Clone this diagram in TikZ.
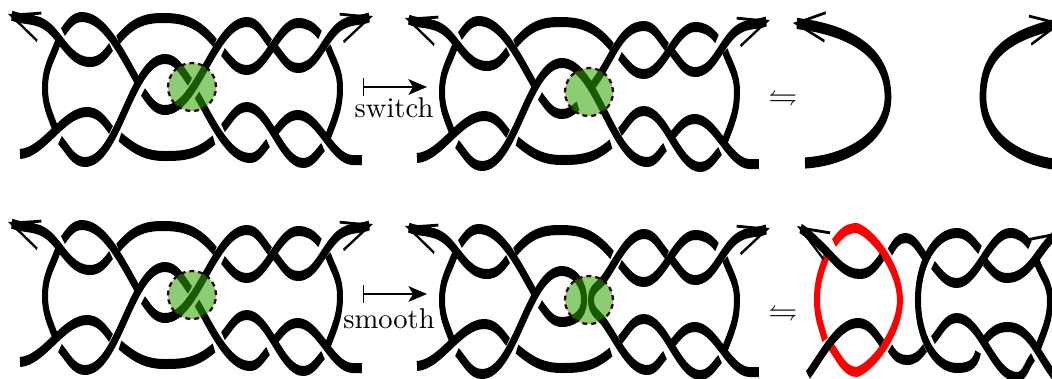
\documentclass[tikz,border=0pt]{standalone}
\usepackage{amsmath,amssymb}
\usepackage{xcolor}
\usetikzlibrary{arrows.meta}
\definecolor{patchgreen}{RGB}{45,164,0}
\definecolor{patchedge}{RGB}{50,0,20}
\tikzset{
  strand/.style={line width=3.5pt},
  loose/.style={line width=3.9pt},
  warp/.style 2 args={transform canvas={shift={(.6*#1,#2)},xscale=.6},x=.58333pt},
  patch/.style={circle, draw=patchedge, dash pattern=on 1.7pt off 1.4pt, line width=.8pt, fill=patchgreen, fill opacity=.55, draw opacity=1, minimum size=16.8pt, inner sep=0pt},
  maparrow/.style={{Bar[width=6.5pt]}-{Stealth[length=6.5pt,width=5.5pt,inset=1.6pt]}, line width=.4pt},
  endtip/.style={-{Straight Barb[length=17pt,width=10pt,line width=1pt]}},
  wave/.style={looseness=.85}
}
% the part of the tangle that every copy shares
\newcommand{\braidcommon}{
  \draw[strand,endtip] (111,47) to[out=-140,in=0] (90,62) to[out=180,in=-36] (55,34) to[out=144,in=-14] (8,14);
  \draw[strand] (118,40) to[out=36,in=180] (163,18) to[out=0,in=144] (215,43);
  \draw[strand] (63,32) to[out=40,in=180] (82,17) to[out=0,in=134,wave] (138,82);
  \draw[strand] (20,154) to[out=2,in=180,wave] (87,112) to[out=0,in=140] (111,130);
  \draw[strand] (120,137) to[out=-27,in=180] (165,156) to[out=0,in=-153] (214,140);
  \draw[strand] (58,42) to[out=-121,in=90] (45,88) to[out=-90,in=121] (55,128);
  \draw[strand] (328,47) to[out=-59,in=90] (340,88) to[out=-90,in=59] (328,137);
  \draw[strand] (223,52) to[out=-36,in=180] (247,70) to[out=0,in=180,wave] (298,23) to[out=0,in=144] (320,35);
  \draw[strand,endtip] (275,48) to[out=-36,in=180] (298,68) to[out=0,in=-144] (333,33) to[out=36,in=193] (373,16);
  \draw[strand] (223,128) to[out=36,in=180] (247,107) to[out=0,in=180,wave] (303,163) to[out=0,in=-144] (323,147);
  \draw[strand] (275,132) to[out=36,in=180] (298,115) to[out=0,in=178,wave] (352,160) -- (362,160);
}
% the crossing under the patch
\newcommand{\crossplain}{
  \draw[strand] (60,140) to[out=-36,in=180] (85,162) to[out=0,in=180,wave] (165,59) to[out=0,in=140] (190,82);
  \draw[strand] (197,95) to[out=-46,in=180,wave] (250,158) to[out=0,in=-144] (268,143);
  \draw[strand] (143,92) to[out=-40,in=180] (165,110) to[out=0,in=180,wave] (247,22) to[out=0,in=144] (270,43);
}
\newcommand{\crossswitch}{
  \draw[strand] (60,140) to[out=-36,in=180] (85,162) to[out=0,in=180,wave] (165,59) to[out=0,in=180,wave] (250,158) to[out=0,in=-144] (268,143);
  \draw[strand] (143,92) to[out=-40,in=180] (165,110) to[out=0,in=-153] (181,102);
  \draw[strand] (195,82) to[out=36,in=180] (247,22) to[out=0,in=144] (270,43);
}
\newcommand{\crosssmooth}{
  \draw[strand] (60,140) to[out=-36,in=180] (85,162) to[out=0,in=180,wave] (165,59) to[out=0,in=90] (187,88) to[out=-90,in=0] (165,110) to[out=180,in=-40] (143,92);
  \draw[strand] (270,43) to[out=144,in=0] (247,22) to[out=180,in=40,wave] (207,67) to[out=-140,in=90] (194,88) to[out=-90,in=140] (207,110) to[out=-40,in=180,wave] (250,158) to[out=0,in=-144] (268,143);
}

\begin{document}
\begin{tikzpicture}[x=.35pt, y=-.35pt]
\clip (0,0) rectangle (1052,378);

% Top row
\begin{scope}[warp={0}{0}]
  \braidcommon
  \crossplain
\end{scope}
\node[patch] (patchA) at (192,87) {};

\coordinate (mapAs) at (363,87);
\coordinate (mapAe) at (427,87);
\draw[maparrow] (mapAs) -- (mapAe);
\node[anchor=base] (labelA) at (394,117) {switch};

\begin{scope}[warp={397}{4}]
  \braidcommon
  \crossswitch
\end{scope}
\node[patch] (patchB) at (589,92) {};

\node (eqA) at (783,98) {$\leftrightharpoons$};

\begin{scope}[warp={0}{0}]
  \draw[loose,endtip] (805,163) .. controls (850,160) and (888,135) .. (888,97) .. controls (888,52) and (850,30) .. (793,23);
  \draw[loose,endtip] (1060,165) .. controls (1015,160) and (983,135) .. (983,97) .. controls (983,60) and (1000,37) .. (1062,23);
\end{scope}

% Bottom row
\begin{scope}[warp={0}{208}]
  \braidcommon
  \crossplain
\end{scope}
\node[patch] (patchC) at (192,295) {};

\coordinate (mapBs) at (363,294);
\coordinate (mapBe) at (427,294);
\draw[maparrow] (mapBs) -- (mapBe);
\node[anchor=base] (labelB) at (389,328) {smooth};

\begin{scope}[warp={397}{212}]
  \braidcommon
  \crosssmooth
\end{scope}
\node[patch] (patchD) at (589,300) {};

\node (eqB) at (783,313) {$\leftrightharpoons$};

% Unknot summand in red, the rest of the tangle in black
\begin{scope}[warp={0}{0}]
  \draw[strand,red] (834,243) to[out=40,in=180] (857,228) to[out=-12,in=90,looseness=.75] (900,300) to[out=-90,in=12,looseness=.75] (857,372) to[out=180,in=-40] (830,345);
  \draw[strand,red] (828,252) to[out=-121,in=90] (817,300) to[out=-90,in=114] (825,340);
  \draw[strand,endtip] (882,257) to[out=-140,in=0] (860,274) to[out=180,in=-31] (825,250) to[out=149,in=-22] (797,226);
  \draw[strand] (808,375) to[out=40,in=180,wave] (858,323) to[out=0,in=140] (882,343);
  \draw[strand] (890,252) to[out=46,in=180] (905,238) to[out=0,in=140] (925,257);
  \draw[strand] (890,348) to[out=-46,in=180] (907,360) to[out=0,in=-140] (925,348);
  \draw[strand] (980,250) to[out=144,in=0] (957,233) to[out=180,in=90] (918,300) to[out=-90,in=180] (957,368) to[out=0,in=-106] (978,352);
  \draw[strand] (933,265) to[out=-36,in=180] (957,283) to[out=0,in=180,wave] (1010,233) to[out=0,in=144] (1030,245);
  \draw[strand,endtip] (985,262) to[out=-36,in=180] (1007,278) to[out=0,in=203] (1060,232);
  \draw[strand] (1037,262) to[out=-59,in=90] (1050,300) to[out=-90,in=59] (1038,348);
  \draw[strand] (933,340) to[out=36,in=180] (957,318) to[out=0,in=180,wave] (1017,377) to[out=0,in=-144] (1033,357);
  \draw[strand] (985,340) to[out=36,in=180] (1008,327) to[out=0,in=144] (1056,378);
\end{scope}
\end{tikzpicture}
\end{document}
